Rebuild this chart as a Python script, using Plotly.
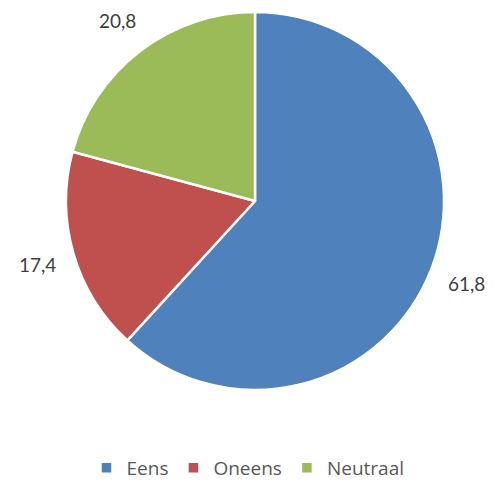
import math
import plotly.graph_objects as go

categories = ["Eens", "Oneens", "Neutraal"]
values = [61.8, 17.4, 20.8]
value_labels = ["61,8", "17,4", "20,8"]
colors = ["#4F81BD", "#C0504D", "#9BBB59"]

W, H = 496, 487
CX, CY, R = 255, 201, 189  # pie centre / radius in pixels (layout)
dom_x = [(CX - R) / W, (CX + R) / W]
dom_y = [1 - (CY + R) / H, 1 - (CY - R) / H]

fig = go.Figure(go.Pie(
    labels=categories,
    values=values,
    textinfo="none",
    sort=False,
    direction="clockwise",
    rotation=0,
    marker=dict(colors=colors, line=dict(color="white", width=2.5)),
    domain=dict(x=dom_x, y=dom_y),
    hoverinfo="label+percent",
))

# value labels placed outside each slice along its mid-angle
total = sum(values)
cum = 0
label_r = R * 1.2
for v, t in zip(values, value_labels):
    mid = (cum + v / 2) / total * 2 * math.pi
    cum += v
    px = CX + label_r * math.sin(mid)
    py = CY - label_r * math.cos(mid)
    fig.add_annotation(x=px / W, y=1 - py / H, xref="paper", yref="paper",
                       text=t, showarrow=False, xanchor="center", yanchor="middle",
                       font=dict(size=19, color="#404040", family="Lato, sans-serif"))

fig.update_layout(
    width=W, height=H,
    margin=dict(l=0, r=0, t=0, b=0),
    paper_bgcolor="white",
    showlegend=True,
    legend=dict(orientation="h", x=0.5, xanchor="center", y=0, yanchor="bottom",
                font=dict(size=19, color="#595959", family="Open Sans, sans-serif"),
                itemwidth=30, traceorder="normal"),
)
fig.write_html("out.html", config={"displayModeBar": False},
               post_script="document.body.style.margin='0';document.body.style.overflow='hidden';")
